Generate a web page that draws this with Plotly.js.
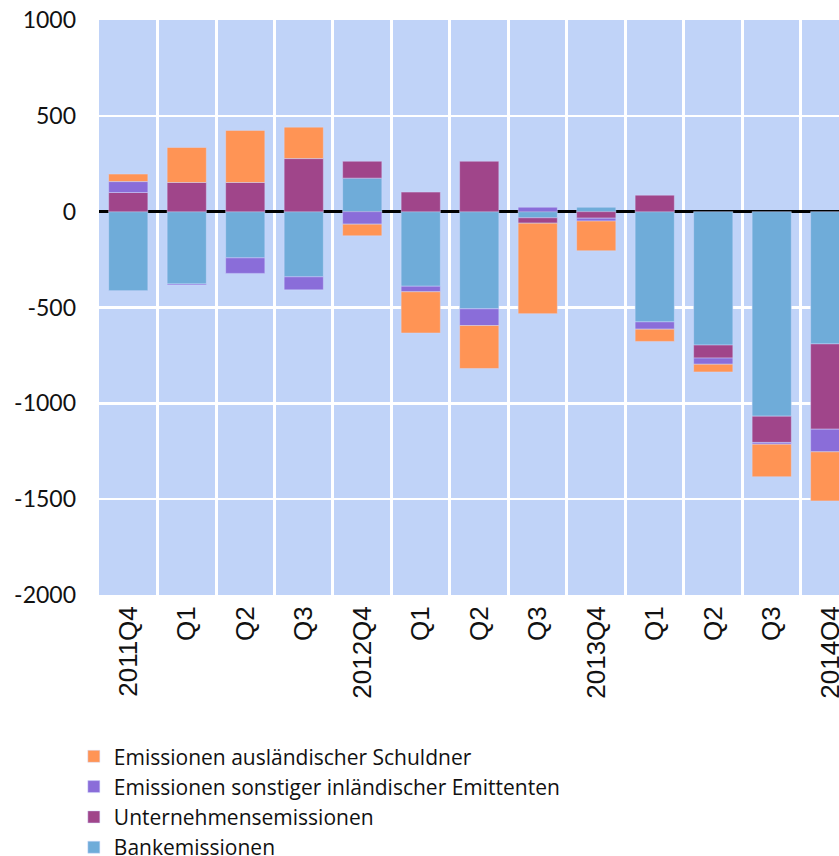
<!DOCTYPE html>
<html>
<head>
<meta charset="utf-8">
<script src="https://cdn.plot.ly/plotly-3.0.1.min.js"></script>
<style>html,body{margin:0;padding:0;background:#fff;}#chart{width:839px;height:856px;}</style>
</head>
<body>
<div id="chart"></div>
<script>
const categories = ['2011Q4','2012Q1','2012Q2','2012Q3','2012Q4','2013Q1','2013Q2','2013Q3','2013Q4','2014Q1','2014Q2','2014Q3','2014Q4'];
const tickLabels = ['2011Q4','Q1','Q2','Q3','2012Q4','Q1','Q2','Q3','2013Q4','Q1','Q2','Q3','2014Q4'];
const yTickValues = [1000, 500, 0, -500, -1000, -1500, -2000];
const yTickLabels = ['1000', '500', '0', '-500', '-1000', '-1500', '-2000'];
const bankemissionen = [-412, -377, -241, -340, 175, -389, -507, -32, 23, -575, -696, -1067, -690];
const unternehmensemissionen = [100, 152, 152, 277, 88, 102, 263, -28, -34, 86, -68, -137, -445];
const sonstigeEmittenten = [57, -5, -81, -68, -65, -29, -87, 23, -15, -38, -32, -9, -118];
const auslaendischeSchuldner = [39, 183, 272, 164, -61, -215, -224, -472, -155, -64, -40, -170, -256];

const seriesNames = ['Bankemissionen','Unternehmensemissionen','Emissionen sonstiger inländischer Emittenten','Emissionen ausländischer Schuldner'];
const seriesColors = ['#6FACD9','#A0458A','#8A6DD9','#FF9455'];
const seriesValues = [bankemissionen, unternehmensemissionen, sonstigeEmittenten, auslaendischeSchuldner];

const traces = seriesValues.map((vals, i) => ({
  type: 'bar',
  name: seriesNames[i],
  x: categories,
  y: vals,
  marker: {color: seriesColors[i], line: {color: 'rgba(210,220,255,0.45)', width: 1}},
  hoverinfo: 'x+y+name'
}));

const layout = {
  width: 839, height: 856,
  margin: {l: 99, r: 0, t: 20, b: 261, autoexpand: false},
  paper_bgcolor: '#ffffff',
  plot_bgcolor: '#C0D3F8',
  barmode: 'relative',
  bargap: 0.33,
  showlegend: true,
  legend: {
    orientation: 'v', traceorder: 'reversed',
    xref: 'container', yref: 'container',
    x: 0.088, xanchor: 'left', y: 0.140, yanchor: 'top',
    font: {family: 'Open Sans, sans-serif', size: 21, color: '#111'},
    bgcolor: 'rgba(0,0,0,0)'
  },
  xaxis: {
    type: 'category',
    range: [-0.5, 12.15],
    tickmode: 'array', tickvals: categories, ticktext: tickLabels,
    tickson: 'boundaries', ticks: '',
    showgrid: true, gridcolor: '#ffffff', gridwidth: 3,
    tickangle: -90, automargin: false, ticklabelstandoff: 5,
    tickfont: {family: 'Liberation Sans, Arial, sans-serif', size: 26, color: '#111'},
    showline: false, zeroline: false, fixedrange: true
  },
  yaxis: {
    range: [-2000, 1000],
    tickmode: 'array', tickvals: yTickValues, ticktext: yTickLabels,
    showgrid: true, gridcolor: '#ffffff', gridwidth: 2.5,
    zeroline: true, zerolinecolor: '#000000', zerolinewidth: 3,
    ticks: '', ticklabelstandoff: 22, automargin: false,
    tickfont: {family: 'Lato, sans-serif', size: 23, color: '#111'},
    showline: false, fixedrange: true
  }
};

Plotly.newPlot('chart', traces, layout, {displayModeBar: false, staticPlot: true});
</script>
</body>
</html>
